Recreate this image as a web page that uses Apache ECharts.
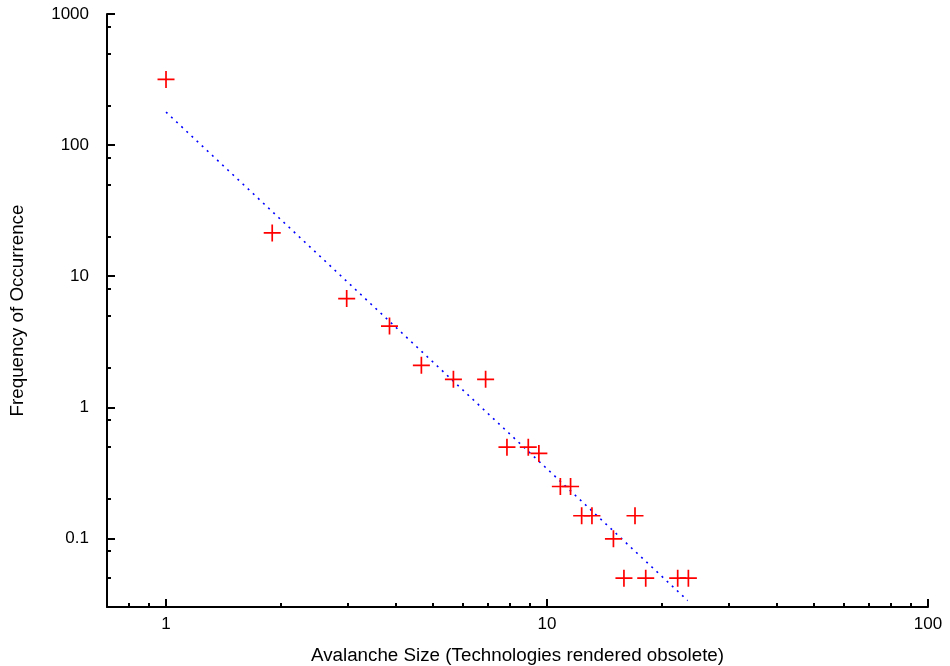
<!DOCTYPE html>
<html>
<head>
<meta charset="utf-8">
<script src="https://cdn.jsdelivr.net/npm/echarts@6/dist/echarts.min.js"></script>
<style>
html,body{margin:0;padding:0;background:#fff;}
#chart{width:950px;height:666px;}
</style>
</head>
<body>
<div id="chart"></div>
<script>
// Avalanche sizes (x) and frequencies (y)
const sizes = [1, 1.9, 2.98, 3.86, 4.68, 5.68, 6.9, 7.85, 8.93, 9.52, 10.84, 11.53, 12.33, 13.12, 14.94, 17.02, 15.92, 18.16, 22.03, 23.5];
const freqs = [317, 21.4, 6.75, 4.17, 2.09, 1.636, 1.636, 0.497, 0.497, 0.445, 0.249, 0.249, 0.149, 0.149, 0.0993, 0.149, 0.0498, 0.0498, 0.0498, 0.0498];
// Power-law fit line endpoints
const fitX = [1, 23.4];
const fitY = [178.6, 0.0336];
// Axis ticks
const xMajor = [1, 10, 100];
const xMinor = [0.8, 0.9, 2, 3, 4, 5, 6, 7, 8, 9, 20, 30, 40, 50, 60, 70, 80, 90];
const yMajor = [0.1, 1, 10, 100, 1000];
const yMinor = [0.05, 0.08, 0.2, 0.5, 0.8, 2, 5, 8, 20, 50, 80, 200, 500, 800];
const xRange = [0.7, 100];
const yRange = [0.03, 1000];

const font = 'Liberation Sans, Arial, sans-serif';
const fmt = v => {
  const r = Math.round(v * 1000) / 1000;
  return String(r);
};

const chart = echarts.init(document.getElementById('chart'));
const option = {
  animation: false,
  backgroundColor: '#ffffff',
  grid: { left: 107, right: 22, top: 14, bottom: 59, containLabel: false, outerBoundsMode: 'none' },
  xAxis: [
    {
      type: 'log', min: xRange[0], max: xRange[1], position: 'bottom',
      name: 'Avalanche Size (Technologies rendered obsolete)',
      nameLocation: 'middle', nameGap: 39,
      nameTextStyle: { fontFamily: font, fontSize: 18.8, color: '#000' },
      axisLine: { show: true, lineStyle: { color: '#000', width: 2 } },
      axisTick: { show: true, inside: true, length: 8, customValues: xMajor, lineStyle: { color: '#000', width: 2 } },
      axisLabel: { show: true, customValues: xMajor, margin: 9, fontFamily: font, fontSize: 17, color: '#000', formatter: fmt },
      splitLine: { show: false }, minorTick: { show: false }
    },
    {
      type: 'log', min: xRange[0], max: xRange[1], position: 'bottom', offset: 0,
      axisLine: { show: false },
      axisTick: { show: true, inside: true, length: 4, customValues: xMinor, lineStyle: { color: '#000', width: 2 } },
      axisLabel: { show: false },
      splitLine: { show: false }
    }
  ],
  yAxis: [
    {
      type: 'log', min: yRange[0], max: yRange[1], position: 'left',
      name: 'Frequency of Occurrence',
      nameLocation: 'middle', nameGap: 80,
      nameTextStyle: { fontFamily: font, fontSize: 18.8, color: '#000' },
      axisLine: { show: true, lineStyle: { color: '#000', width: 2 } },
      axisTick: { show: true, inside: true, length: 8, customValues: yMajor, lineStyle: { color: '#000', width: 2 } },
      axisLabel: { show: true, customValues: yMajor, margin: 18, fontFamily: font, fontSize: 17, color: '#000', formatter: fmt },
      splitLine: { show: false }, minorTick: { show: false }
    },
    {
      type: 'log', min: yRange[0], max: yRange[1], position: 'left', offset: 0,
      axisLine: { show: false },
      axisTick: { show: true, inside: true, length: 4, customValues: yMinor, lineStyle: { color: '#000', width: 2 } },
      axisLabel: { show: false },
      splitLine: { show: false }
    }
  ],
  series: [
    {
      type: 'line',
      xAxisIndex: 0, yAxisIndex: 0,
      data: fitX.map((x, i) => [x, fitY[i]]),
      showSymbol: false, symbol: 'none',
      lineStyle: { color: '#0000ff', width: 1.6, type: [2, 5] },
      silent: true, z: 2
    },
    {
      type: 'scatter',
      xAxisIndex: 0, yAxisIndex: 0,
      data: sizes.map((x, i) => [x, freqs[i]]),
      symbol: 'path://M-1,-10 L1,-10 L1,-1 L10,-1 L10,1 L1,1 L1,10 L-1,10 L-1,1 L-10,1 L-10,-1 L-1,-1 Z',
      symbolSize: 17,
      itemStyle: { color: '#ff0000', opacity: 1 },
      z: 3
    }
  ]
};
chart.setOption(option);
</script>
</body>
</html>
